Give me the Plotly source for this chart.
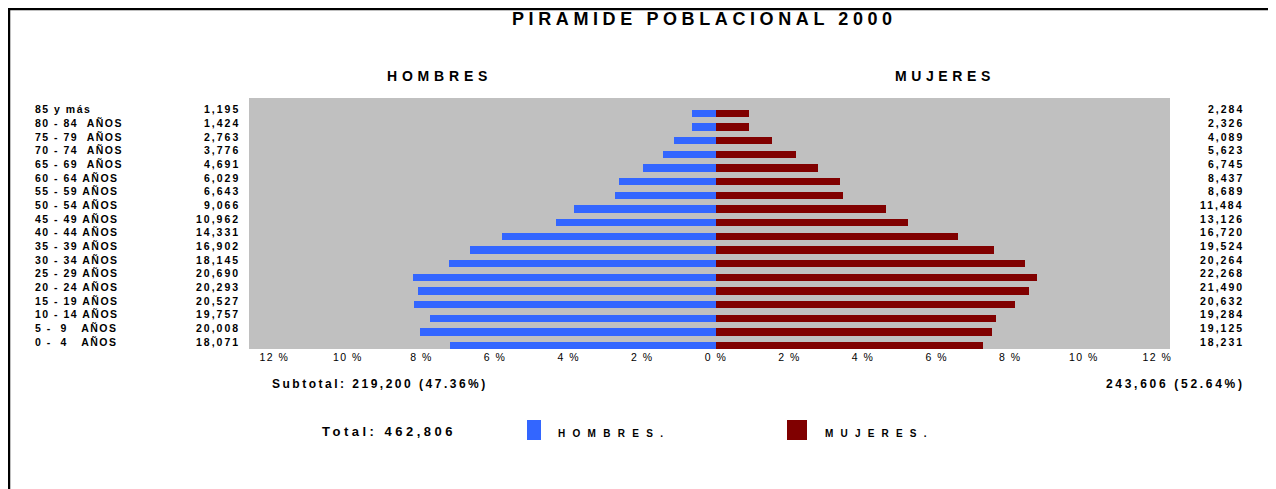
"""
Pirámide poblacional 2000 - Plotly recreation.
"""

import plotly.graph_objects as go

# ── Data (bottom row first) ─────────────────────────────────────────────────
NBSP = "\u00a0"
grupos = [
    f"0 -{NBSP}{NBSP}4{NBSP}{NBSP}{NBSP}AÑOS",
    f"5 -{NBSP}{NBSP}9{NBSP}{NBSP}{NBSP}AÑOS",
    "10 - 14 AÑOS", "15 - 19 AÑOS", "20 - 24 AÑOS", "25 - 29 AÑOS",
    "30 - 34 AÑOS", "35 - 39 AÑOS", "40 - 44 AÑOS", "45 - 49 AÑOS",
    "50 - 54 AÑOS", "55 - 59 AÑOS", "60 - 64 AÑOS",
    f"65 - 69{NBSP} AÑOS", f"70 - 74{NBSP} AÑOS", f"75 - 79{NBSP} AÑOS",
    f"80 - 84{NBSP} AÑOS", "85 y más",
]
hombres_n = [18071, 20008, 19757, 20527, 20293, 20690, 18145, 16902, 14331,
             10962, 9066, 6643, 6029, 4691, 3776, 2763, 1424, 1195]
mujeres_n = [18231, 19125, 19284, 20632, 21490, 22268, 20264, 19524, 16720,
             13126, 11484, 8689, 8437, 6745, 5623, 4089, 2326, 2284]
# bar lengths (%) as drawn in the original
hombres_pct = [7.23, 8.04, 7.76, 8.21, 8.10, 8.23, 7.26, 6.68, 5.82,
               4.35, 3.86, 2.74, 2.64, 1.98, 1.43, 1.14, 0.65, 0.65]
mujeres_pct = [7.26, 7.51, 7.62, 8.13, 8.51, 8.72, 8.41, 7.55, 6.58,
               5.22, 4.61, 3.46, 3.36, 2.77, 2.17, 1.51, 0.91, 0.91]
tick_vals = [-12, -10, -8, -6, -4, -2, 0, 2, 4, 6, 8, 10, 12]
tick_text = [f"{abs(v)} %" for v in tick_vals]

titulo = "PIRAMIDE POBLACIONAL 2000"
subtotal_h = "Subtotal: 219,200 (47.36%)"
subtotal_m = "243,606 (52.64%)"
total_txt = "Total: 462,806"

# ── Theme ────────────────────────────────────────────────────────────────────
BLUE = "#3366FF"
DARKRED = "#800000"
GRAY = "#C0C0C0"
FONT = "Arial, 'Liberation Sans', sans-serif"

W, H = 1276, 489
OFF = 8                       # page body margin around the plot div
L, R, T, B = 241, 114, 90, 148
PW, PH = W - L - R, H - T - B


def px_x(p):
    """page pixel -> paper x"""
    return (p - OFF - L) / PW


def px_y(p):
    """page pixel -> paper y"""
    return (H - B - (p - OFF)) / PH


def spaced(txt, ls):
    return f'<span style="letter-spacing:{ls}px">{txt}</span>'


def text(txt, x, y, size, ls=0, xanchor="center"):
    return dict(text=spaced(txt, ls), xref="paper", yref="paper",
                x=px_x(x), y=px_y(y), xanchor=xanchor, yanchor="middle",
                showarrow=False,
                font=dict(family=FONT, size=size, color="#000", weight="bold"))


rows = list(range(len(grupos)))

fig = go.Figure()
fig.add_trace(go.Bar(
    y=rows, x=[-v for v in hombres_pct], base=0, orientation="h",
    width=0.52, marker=dict(color=BLUE, line=dict(width=0)),
    name="HOMBRES.", customdata=hombres_n,
    hovertemplate="%{customdata:,}<extra>HOMBRES</extra>",
))
fig.add_trace(go.Bar(
    y=rows, x=mujeres_pct, base=0, orientation="h",
    width=0.52, marker=dict(color=DARKRED, line=dict(width=0)),
    name="MUJERES.", customdata=mujeres_n,
    hovertemplate="%{customdata:,}<extra>MUJERES</extra>",
))

ann = [
    text(titulo, 704, 19, 18, ls=4.6),
    text("HOMBRES", 439, 76, 14, ls=4.8),
    text("MUJERES", 945, 76, 14, ls=4.6),
    text(subtotal_h, 270, 384, 12, ls=2.5, xanchor="left"),
    text(subtotal_m, 1247, 384, 12, ls=2.7, xanchor="right"),
    text(total_txt, 320, 431, 13, ls=3.5, xanchor="left"),
    text("HOMBRES.", 556, 433, 10, ls=7.3, xanchor="left"),
    text("MUJERES.", 823, 433, 10, ls=7.2, xanchor="left"),
]
for r, g, hn, mn in zip(rows, grupos, hombres_n, mujeres_n):
    common = dict(xref="paper", yref="y", y=r, yshift=4, showarrow=False,
                  yanchor="middle", font=dict(family=FONT, size=10.5,
                                              color="#000", weight="bold"))
    ann.append(dict(text=spaced(g, 1.5), x=px_x(33), xanchor="left", **common))
    ann.append(dict(text=spaced(f"{hn:,}", 2), x=px_x(242), xanchor="right", **common))
    ann.append(dict(text=spaced(f"{mn:,}", 2), x=px_x(1246), xanchor="right", **common))

shapes = [
    # legend swatches
    dict(type="rect", xref="paper", yref="paper", x0=px_x(527), x1=px_x(541),
         y0=px_y(440), y1=px_y(420), fillcolor=BLUE, line=dict(width=0)),
    dict(type="rect", xref="paper", yref="paper", x0=px_x(787), x1=px_x(807),
         y0=px_y(440), y1=px_y(420), fillcolor=DARKRED, line=dict(width=0)),
    # chart frame (left + top edge)
    dict(type="line", xref="paper", yref="paper", x0=px_x(9), x1=px_x(9),
         y0=px_y(8), y1=px_y(H + 10), line=dict(color="#000", width=2.5)),
    dict(type="line", xref="paper", yref="paper", x0=px_x(8), x1=px_x(W + 10),
         y0=px_y(9), y1=px_y(9), line=dict(color="#000", width=2.5)),
]

fig.update_layout(
    width=W, height=H,
    margin=dict(l=L, r=R, t=T, b=B),
    paper_bgcolor="#FFFFFF", plot_bgcolor=GRAY,
    barmode="overlay", bargap=0, showlegend=False,
    font=dict(family=FONT, color="#000"),
    annotations=ann, shapes=shapes,
)
fig.update_xaxes(
    range=[-12.69, 12.34], tickvals=tick_vals,
    ticktext=[spaced(t, 1.5) for t in tick_text],
    showgrid=False, zeroline=False, showline=False, ticks="",
    tickfont=dict(family=FONT, size=10.5, color="#000"), fixedrange=True,
)
fig.update_yaxes(
    range=[-0.24, 18.12], showticklabels=False, showgrid=False,
    zeroline=False, showline=False, ticks="", fixedrange=True,
)

fig.write_html("out.html")
